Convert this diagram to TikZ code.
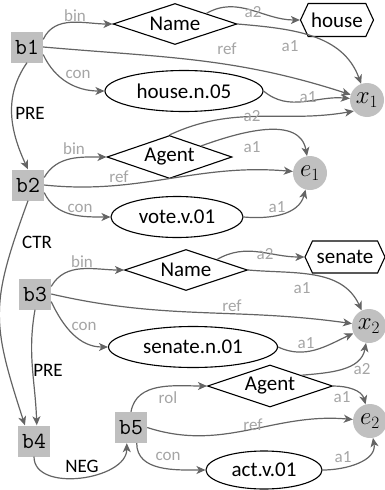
\documentclass[tikz,border=0pt]{standalone}
\usepackage{fontspec}
\setmainfont{Carlito}
\usetikzlibrary{shapes.geometric,shapes.symbols,arrows.meta}
\definecolor{edgegray}{RGB}{100,100,100}
\definecolor{labgray}{RGB}{165,165,165}
\definecolor{boxgray}{RGB}{191,191,191}
\definecolor{circgray}{RGB}{192,192,192}
\begin{document}
\begin{tikzpicture}[x=1pt,y=1pt,
  box/.style={rectangle, fill=boxgray, minimum width=32pt, minimum height=31pt, inner sep=0pt, font=\ttfamily\fontsize{23}{25}\selectfont},
  dia/.style={diamond, draw=black, line width=1.1pt, aspect=3, inner sep=0pt, minimum width=124pt, minimum height=41pt, font=\fontsize{21}{24}\selectfont},
  ell/.style={ellipse, draw=black, line width=1.1pt, inner sep=0pt, minimum height=41pt, font=\fontsize{21}{24}\selectfont},
  hexa/.style={signal, signal to=east and west, signal pointer angle=130, draw=black, line width=1.1pt, inner sep=0pt, minimum height=33pt, font=\fontsize{21}{24}\selectfont},
  var/.style={circle, fill=circgray, minimum size=34pt, inner sep=0pt, font=\fontsize{25}{28}\selectfont},
  edge/.style={draw=edgegray, line width=1.2pt, -{Stealth[length=9pt,width=8pt,inset=2.5pt]}},
  lab/.style={text=labgray, inner sep=0pt, font=\fontsize{17}{19}\selectfont},
  blab/.style={text=black, inner sep=0pt, font=\fontsize{19}{21}\selectfont}]
\useasboundingbox (0,0) rectangle (385,-490);

% nodes
\node[box] (b1) at (27,-47) {b1};
\node[box] (b2) at (28,-185) {b2};
\node[box] (b3) at (35,-294) {b3};
\node[box] (b4) at (34,-441) {b4};
\node[box] (b5) at (131,-427.5) {b5};

\node[dia] (Name1) at (175,-24) {Name};
\node[hexa, minimum width=73pt] (house) at (337,-20) {house};
\node[var] (x1) at (367,-100) {$x_1$};
\node[ell, minimum width=158pt] (hn) at (184,-91) {house.n.05};
\node[dia, minimum width=125pt, minimum height=43pt] (Agent1) at (169.5,-157) {Agent};
\node[var] (e1) at (310,-173) {$e_1$};
\node[ell, minimum width=132pt] (vote) at (177,-217) {vote.v.01};

\node[dia, minimum width=123pt] (Name2) at (186,-270) {Name};
\node[hexa, minimum width=80pt, minimum height=32pt] (senate) at (345,-257) {senate};
\node[var] (x2) at (369,-326) {$x_2$};
\node[ell, minimum width=169pt] (sn) at (193,-347) {senate.n.01};
\node[dia, minimum width=125pt, minimum height=42pt] (Agent2) at (270,-386) {Agent};
\node[var] (e2) at (370,-421) {$e_2$};
\node[ell, minimum width=116pt, minimum height=38pt] (act) at (264,-470) {act.v.01};

% edges from b1
\draw[edge] (b1.25) to[out=65,in=180] (Name1.west);
\draw[edge] (b1.east) to[out=-5,in=162] (x1);
\draw[edge] (b1.-25) to[out=-65,in=180] (hn.west);
\draw[edge] (b1.south) to[out=-125,in=115] (b2.north);
\draw[edge] (Name1.north east) to[out=30,in=180] (house.west);
\draw[edge] (Name1.east) to[out=-5,in=110] (x1);
\draw[edge] (hn.east) to[out=-40,in=175] (x1);
\draw[edge] (Agent1.north) to[out=25,in=190] (x1.220);
\draw[edge] (Agent1.north east) to[out=20,in=100] (e1);

% edges from b2
\draw[edge] (b2.25) to[out=60,in=180] (Agent1.west);
\draw[edge] (b2.east) to[out=-6,in=175] (e1);
\draw[edge] (b2.-25) to[out=-65,in=180] (vote.west);
\draw[edge] (vote.east) to[out=-5,in=-105] (e1);
\draw[edge] (b2.south) to[out=-110,in=108,looseness=1.25] (b4.120);

% edges from b3
\draw[edge] (b3.south) to[out=-100,in=92] (b4.80);
\draw[edge] (b3.25) to[out=60,in=180] (Name2.west);
\draw[edge] (b3.east) to[out=-13,in=172] (x2);
\draw[edge] (b3.-25) to[out=-65,in=180] (sn.west);
\draw[edge] (Name2.north east) to[out=30,in=180] (senate.west);
\draw[edge] (Name2.east) to[out=-5,in=115] (x2);
\draw[edge] (sn.east) to[out=-25,in=205] (x2);
\draw[edge] (Agent2.north east) to[out=5,in=-100] (x2);
\draw[edge] (Agent2.east) to[out=0,in=105] (e2);

% edges from b4, b5
\draw[edge] (b4.south) to[out=-90,in=-90] (b5.-105);
\draw[edge] (b5.north) to[out=80,in=180] (Agent2.west);
\draw[edge] (b5.east) to[out=-18,in=175] (e2);
\draw[edge] (b5.-70) to[out=-90,in=180] (act.west);
\draw[edge] (act.east) to[out=0,in=-80] (e2);

% labels
\node[lab] (l1) at (75,-16) {bin};
\node[lab] (l2) at (78,-74) {con};
\node[lab] (l3) at (227,-49) {ref};
\node[lab] (l4) at (253,-12) {a2};
\node[lab] (l5) at (290,-46) {a1};
\node[lab] (l6) at (308,-97) {a1};
\node[lab] (l7) at (252,-116) {a2};
\node[lab] (l8) at (252,-147) {a1};
\node[lab] (l9) at (74,-149) {bin};
\node[lab] (l10) at (119,-177) {ref};
\node[lab] (l11) at (80,-208) {con};
\node[lab] (l12) at (277,-207) {a1};
\node[lab] (l13) at (82,-262) {bin};
\node[lab] (l14) at (232,-306) {ref};
\node[lab] (l15) at (84,-326) {con};
\node[lab] (l16) at (265,-254) {a2};
\node[lab] (l17) at (302,-288) {a1};
\node[lab] (l18) at (306,-343) {a1};
\node[lab] (l19) at (362,-369) {a2};
\node[lab] (l20) at (342,-397) {a1};
\node[lab] (l21) at (168,-398) {rol};
\node[lab] (l22) at (253,-425) {ref};
\node[lab] (l23) at (168,-456) {con};
\node[lab] (l24) at (343,-457) {a1};
\node[blab] (p1) at (30,-113) {PRE};
\node[blab] (p2) at (37,-242) {CTR};
\node[blab] (p3) at (48,-370) {PRE};
\node[blab] (p4) at (82,-466) {NEG};
\end{tikzpicture}
\end{document}
